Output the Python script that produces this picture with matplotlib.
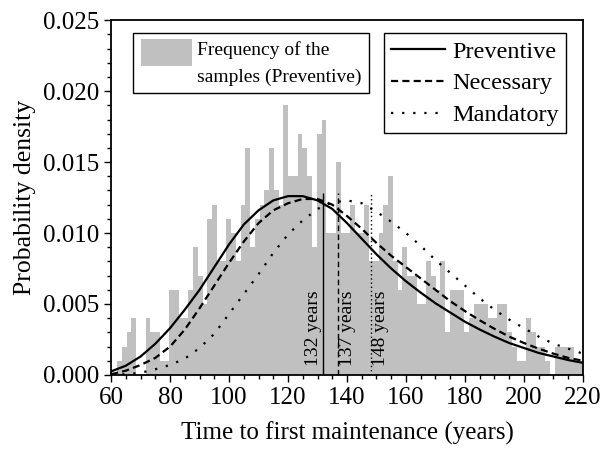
import numpy as np
import matplotlib
matplotlib.use("Agg")
import matplotlib.pyplot as plt
from matplotlib.ticker import MultipleLocator, FormatStrFormatter
from matplotlib.legend_handler import HandlerPatch, update_from_first_child
from matplotlib.patches import Rectangle

plt.rcParams['font.family'] = ['Liberation Serif', 'DejaVu Serif']

bin_start = 62.0
bin_width = 1.613
hist_pm = [1, 2, 3, 4, 0, 0, 4, 3, 3, 1,
           1, 6, 6, 4, 4, 6, 9, 7, 5, 11,
           12, 8, 8, 11, 10, 8, 12, 16, 9, 11,
           12, 13, 16, 13, 12, 19, 14, 14, 17, 16,
           14, 9, 17, 18, 10, 10, 15, 10, 10, 12,
           10, 10, 12, 8, 8, 10, 12, 14, 8, 6,
           9, 7, 7, 5, 5, 8, 7, 6, 8, 3,
           6, 6, 6, 3, 4, 5, 5, 5, 4, 4,
           5, 5, 3, 2, 1, 1, 4, 3, 2, 2,
           1, 0, 2, 2, 2, 2, 1, 1]

# fitted densities (x 1e-3) read every 5 years
years = [60, 65, 70, 75, 80, 85, 90, 95, 100, 105, 110, 115, 120, 125, 130, 135, 140,
         145, 150, 155, 160, 165, 170, 175, 180, 185, 190, 195, 200, 205, 210, 215, 220]
preventive = [0.25, 0.65, 1.3, 2.2, 3.3, 4.6, 6.0, 7.6, 9.2, 10.6, 11.6, 12.3, 12.6, 12.6, 12.3, 11.7, 10.7,
              9.6, 8.5, 7.5, 6.6, 5.8, 5.05, 4.4, 3.75, 3.2, 2.7, 2.25, 1.9, 1.55, 1.3, 1.05, 0.85]
necessary = [0.05, 0.3, 0.7, 1.2, 2.0, 3.2, 4.7, 6.3, 7.9, 9.4, 10.7, 11.6, 12.1, 12.4, 12.4, 12.0, 11.2,
             10.3, 9.3, 8.4, 7.6, 6.8, 6.0, 5.2, 4.5, 3.85, 3.25, 2.7, 2.25, 1.85, 1.5, 1.2, 1.0]
mandatory = [0.0, 0.05, 0.15, 0.4, 0.7, 1.15, 1.9, 2.9, 4.3, 5.7, 7.1, 8.6, 9.9, 10.9, 11.7, 12.15, 12.3,
             12.1, 11.5, 10.8, 10.0, 9.1, 8.1, 7.2, 6.3, 5.4, 4.6, 3.9, 3.3, 2.7, 2.2, 1.85, 1.5]

# mean times
means = [132, 137, 148]
mean_labels = ["132 years", "137 years", "148 years"]
label_x = [128.6, 140.1, 151.4]
mean_top = 0.0128


def raised_patch(legend, orig_handle, xdescent, ydescent, width, height, fontsize):
    # gray box sits next to the first text line, like in the original
    return Rectangle((-xdescent, -ydescent + 0.45 * fontsize), width, 1.2 * height)


fig = plt.figure(figsize=(6.04, 4.49), dpi=100)
ax = fig.add_axes([0.184, 0.165, 0.781, 0.79])

edges = bin_start + bin_width * np.arange(len(hist_pm))
bars = ax.bar(edges, np.array(hist_pm) / 1000, width=bin_width, align='edge',
              color='#c0c0c0', linewidth=0, label="Frequency of the\nsamples (Preventive)", zorder=1)

yr = np.array(years)
l1, = ax.plot(yr, np.array(preventive) / 1000, color='black', lw=1.6, label='Preventive', zorder=3)
l2, = ax.plot(yr, np.array(necessary) / 1000, color='black', lw=1.6, ls=(0, (3.2, 1.9)), label='Necessary', zorder=3)
l3, = ax.plot(yr, np.array(mandatory) / 1000, color='black', lw=1.6, ls=(0, (1, 4)), label='Mandatory', zorder=3)

# vertical lines at the means with labels
ax.vlines(means[0], 0, mean_top, colors='black', lw=1.0, zorder=4)
ax.vlines(means[1], 0, mean_top, colors='black', lw=1.0, linestyles=(0, (4, 2.5)), zorder=4)
ax.vlines(means[2], 0, mean_top, colors='black', lw=1.0, linestyles=(0, (1, 2)), zorder=4)
for lx, lab in zip(label_x, mean_labels):
    ax.text(lx, 0.0006, lab, rotation=90, ha='center', va='bottom', fontsize=14, zorder=5)

ax.set_xlim(60, 220)
ax.set_ylim(0, 0.025)
ax.xaxis.set_major_locator(MultipleLocator(20))
ax.xaxis.set_minor_locator(MultipleLocator(5))
ax.yaxis.set_major_locator(MultipleLocator(0.005))
ax.yaxis.set_minor_locator(MultipleLocator(0.001))
ax.yaxis.set_major_formatter(FormatStrFormatter('%.3f'))
ax.tick_params(which='major', direction='out', length=5, width=1.0, labelsize=18, top=False, right=False)
ax.tick_params(which='minor', direction='out', length=3, width=1.0, top=False, right=False)
for s in ax.spines.values():
    s.set_linewidth(1.3)

ax.set_xlabel("Time to first maintenance (years)", fontsize=18, labelpad=9)
ax.set_ylabel("Probability density", fontsize=18.5, labelpad=5)

leg1 = ax.legend(handles=[bars], loc='upper left', bbox_to_anchor=(0.047, 0.963), borderaxespad=0,
                 fontsize=14, frameon=True, fancybox=False, edgecolor='black', framealpha=1,
                 handlelength=2.6, handleheight=1.35, handletextpad=0.25, borderpad=0.4,
                 handler_map={type(bars): HandlerPatch(patch_func=raised_patch,
                                                       update_func=update_from_first_child)})
leg1.get_texts()[0].set_linespacing(1.7)
leg1.get_frame().set_linewidth(1.0)
ax.add_artist(leg1)
leg2 = ax.legend(handles=[l1, l2, l3], loc='upper right', bbox_to_anchor=(0.964, 0.963), borderaxespad=0,
                 fontsize=17.5, frameon=True, fancybox=False, edgecolor='black', framealpha=1,
                 handlelength=2.2, handletextpad=0.3, borderpad=0.3, labelspacing=0.4)
leg2.get_frame().set_linewidth(1.0)

fig.savefig("out.png", dpi=100)
